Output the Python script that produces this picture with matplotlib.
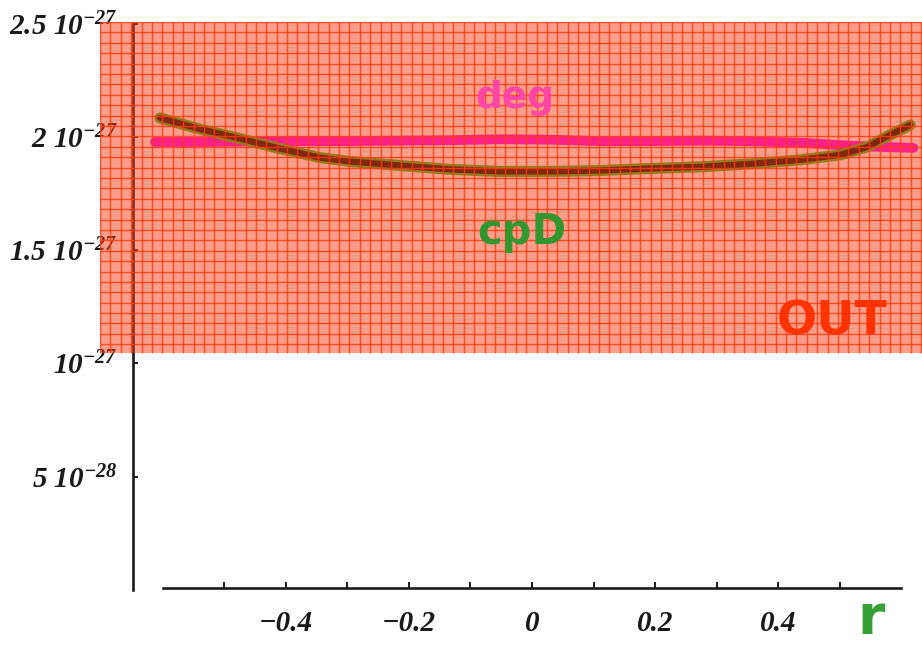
import numpy as np
import matplotlib
matplotlib.use('Agg')
import matplotlib.pyplot as plt
from matplotlib.ticker import FixedLocator, FixedFormatter

# values, y in units of 1e-27
deg_r = [-0.613, -0.54, -0.46, -0.38, -0.30, -0.21, -0.13, -0.05, 0.03,
         0.11, 0.19, 0.27, 0.35, 0.44, 0.52, 0.57, 0.62]
deg_v = [1.978, 1.978, 1.980, 1.982, 1.982, 1.984, 1.986, 1.990, 1.988,
         1.982, 1.982, 1.984, 1.982, 1.974, 1.961, 1.956, 1.952]

cpd_r = [-0.605, -0.54, -0.475, -0.41, -0.345, -0.296, -0.215, -0.133, -0.052,
         0.029, 0.111, 0.192, 0.273, 0.354, 0.436, 0.501, 0.545, 0.582, 0.615]
cpd_v = [2.084, 2.035, 1.993, 1.949, 1.909, 1.892, 1.874, 1.857, 1.848,
         1.848, 1.852, 1.861, 1.868, 1.881, 1.899, 1.921, 1.956, 2.009, 2.053]

ytick_vals = [0.5, 1.0, 1.5, 2.0, 2.5]
ytick_labels = ['5 10$^{-28}$', '10$^{-27}$', '1.5 10$^{-27}$',
                '2 10$^{-27}$', '2.5 10$^{-27}$']
xtick_vals = [-0.5, -0.4, -0.3, -0.2, -0.1, 0.0, 0.1, 0.2, 0.3, 0.4, 0.5]
xtick_labels = ['', '\u22120.4', '', '\u22120.2', '', '0', '', '0.2', '', '0.4', '']

out_low = 1.045   # lower edge of the OUT band

plt.rcParams['font.family'] = 'Liberation Serif'
plt.rcParams['font.weight'] = 'bold'
plt.rcParams['font.style'] = 'italic'
plt.rcParams['mathtext.fontset'] = 'custom'
plt.rcParams['mathtext.rm'] = 'Liberation Serif:italic:bold'
plt.rcParams['mathtext.it'] = 'Liberation Serif:italic:bold'
plt.rcParams['mathtext.bf'] = 'Liberation Serif:italic:bold'

fig = plt.figure(figsize=(9.22, 6.48), dpi=100)
ax = fig.add_axes([100/922, 58/648, 822/922, 568/648])
x0, x1 = -0.7024, 0.6341
y0, y1 = 0.0, 2.5077
ax.set_xlim(x0, x1)
ax.set_ylim(y0, y1)

for s in ['top', 'right']:
    ax.spines[s].set_visible(False)
ax.spines['left'].set_position(('data', -0.649))
ax.spines['left'].set_bounds(0, 2.5)
ax.spines['bottom'].set_position(('data', 0.01))
ax.spines['bottom'].set_bounds(-0.6, 0.6)
for s in ['left', 'bottom']:
    ax.spines[s].set_linewidth(1.9)
    ax.spines[s].set_color('#1a1a1a')

ax.xaxis.set_major_locator(FixedLocator(xtick_vals))
ax.xaxis.set_major_formatter(FixedFormatter(xtick_labels))
ax.yaxis.set_major_locator(FixedLocator(ytick_vals))
ax.yaxis.set_major_formatter(FixedFormatter(ytick_labels))
ax.tick_params(axis='x', direction='in', length=4, width=1.4, pad=16,
               labelsize=21, colors='#1a1a1a')
ax.tick_params(axis='y', direction='in', length=3.5, width=1.4, pad=11,
               labelsize=21, colors='#1a1a1a')

# curves
ax.plot(deg_r, deg_v, color='#ff00ff', lw=7, solid_capstyle='round', zorder=3)
ax.plot(cpd_r, cpd_v, color='#2cc02c', lw=8, solid_capstyle='round', zorder=3)
ax.plot(cpd_r, cpd_v, color='#0a1010', lw=4.5, solid_capstyle='round', zorder=3.1)

# translucent OUT band with graph paper grid on top of everything
ax.axhspan(out_low, y1, color='#f83e14', alpha=0.5, lw=0, zorder=5)
gx = np.arange(x0, x1, 0.0169)
gy = y1 - np.arange(0, y1 - out_low, 0.0459)
ax.vlines(gx, out_low, y1, color='#ff3a10', lw=1.0, alpha=0.85, zorder=5.1)
ax.hlines(gy, x0, x1, color='#ff3a10', lw=1.0, alpha=0.85, zorder=5.1)

hand = dict(family='DejaVu Sans', style='normal', ha='center', zorder=10)
ax.text(-0.028, 2.172, 'deg', color='#ff45a5', fontsize=27, weight='bold',
        va='center', **hand)
ax.text(-0.016, 1.58, 'cpD', color='#33962f', fontsize=30, weight='bold',
        va='center', **hand)
ax.text(0.488, 1.183, 'OUT', color='#ff3300', fontsize=34, weight='bold',
        va='center', **hand)
ax.text(0.552, -0.194, 'r', color='#35a035', fontsize=40, weight='bold',
        va='baseline', clip_on=False, **hand)

fig.savefig('out.png', dpi=100)
